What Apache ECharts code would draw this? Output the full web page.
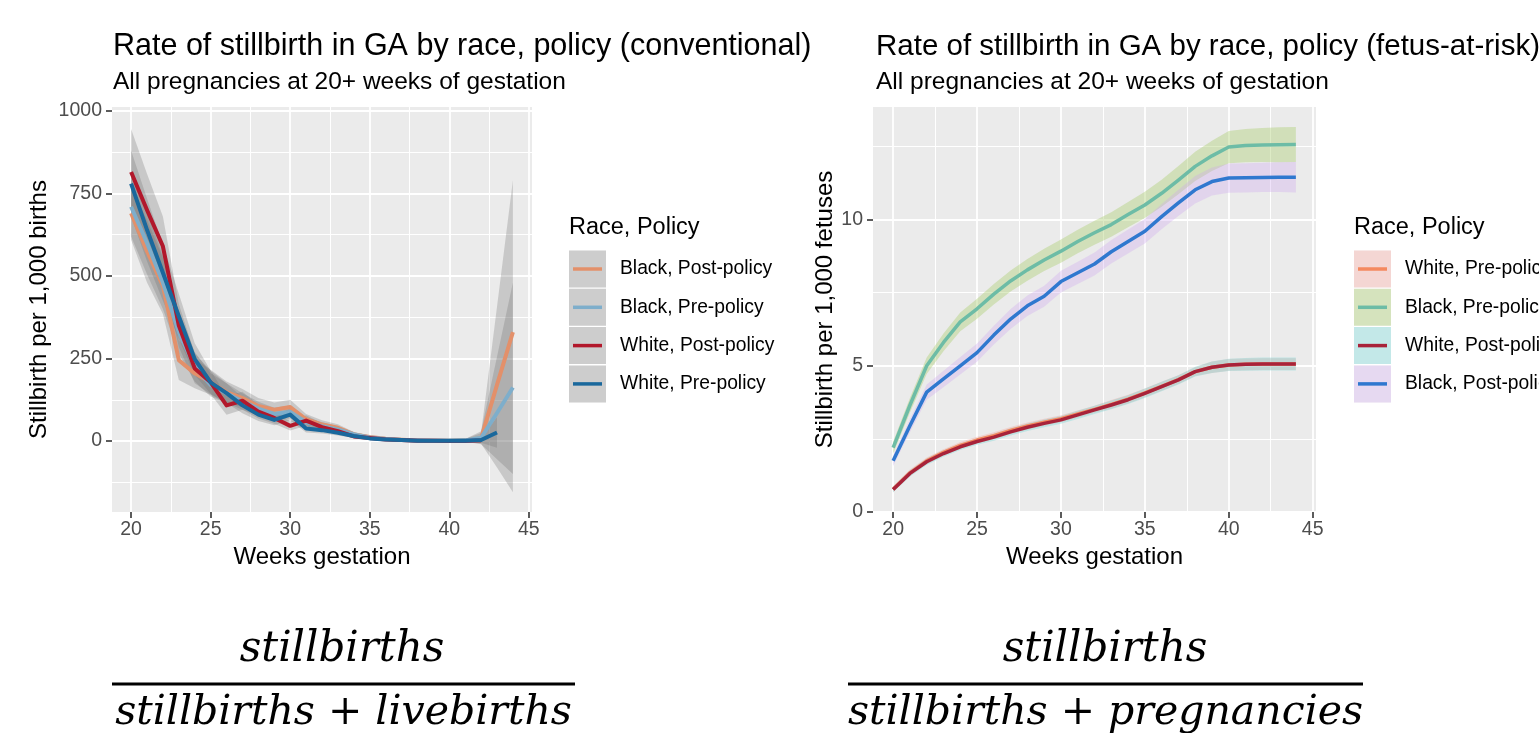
<!DOCTYPE html>
<html><head><meta charset="utf-8">
<script src="https://cdn.jsdelivr.net/npm/echarts@6/dist/echarts.min.js"></script>
<style>html,body{margin:0;padding:0;background:#fff}#c{width:1539px;height:733px}</style>
</head><body><div id="c"></div>
<script>
// ---------------- DATA ----------------
const weeks = [20,21,22,23,24,25,26,27,28,29,30,31,32,33,34,35,36,37,38,39,40,41,42,43,44];
const xTicks = [20,25,30,35,40,45];
const yTicksLeft = [0,250,500,750,1000];
const yTicksRight = [0,5,10];

// Left panel: conventional rate per 1,000 births
const convBlackPost    = [690,575,470,245,205,178,148,130,106,95,103,66,50,40,20,12,7,4,2,1,1,2,8,170,330];
const convBlackPostLo  = [610,480,385,185,160,140,116,102,82,73,81,50,37,29,13,7,3,1,0,0,0,-2,-8,-80,-155];
const convBlackPostHi  = [770,670,555,305,250,216,180,158,130,117,125,82,63,51,27,17,11,7,4,3,3,6,24,407,790];
const convBlackPre     = [710,600,480,330,225,170,145,120,98,82,88,57,45,35,20,11,6,3,2,1,1,2,10,85,162];
const convBlackPreLo   = [620,505,400,265,180,135,115,95,77,63,68,43,33,25,13,6,3,1,0,0,0,-2,-10,-55,-100];
const convBlackPreHi   = [800,695,560,395,270,205,175,145,119,101,108,71,57,45,27,16,9,5,4,3,3,6,30,255,480];
const convWhitePost    = [815,700,590,350,220,178,108,122,89,70,46,62,42,30,14,9,5,3,1,1,0,0,2];
const convWhitePostLo  = [700,590,490,285,175,142,80,95,68,52,32,46,30,21,8,5,2,1,0,0,0,-1,-6];
const convWhitePostHi  = [945,810,680,415,265,214,136,149,110,88,60,78,54,39,20,13,8,5,2,2,1,2,10];
const convWhitePre     = [780,640,510,378,248,178,145,108,80,64,80,38,33,25,15,8,5,3,1,1,1,1,3,26];
const convWhitePreLo   = [680,545,425,310,200,143,115,84,61,48,62,26,23,17,9,4,2,1,0,0,0,-1,-5,-20];
const convWhitePreHi   = [880,735,595,446,296,213,175,132,99,80,98,50,43,33,21,12,8,5,2,2,2,3,11,72];

// Right panel: fetus-at-risk rate per 1,000 fetuses
const farWhitePre    = [0.78,1.34,1.75,2.04,2.28,2.46,2.61,2.79,2.94,3.07,3.19,3.35,3.51,3.68,3.86,4.07,4.30,4.53,4.80,4.95,5.03,5.05,5.06,5.06,5.06];
const farWhitePreLo  = [0.68,1.23,1.64,1.93,2.17,2.35,2.49,2.67,2.82,2.95,3.07,3.23,3.39,3.53,3.71,3.92,4.15,4.38,4.65,4.75,4.83,4.85,4.86,4.86,4.86];
const farWhitePreHi  = [0.88,1.45,1.86,2.15,2.39,2.57,2.73,2.91,3.06,3.19,3.31,3.47,3.63,3.83,4.01,4.22,4.45,4.68,4.95,5.15,5.23,5.25,5.26,5.26,5.26];
const farBlackPre    = [2.20,3.65,5.00,5.80,6.50,6.95,7.45,7.90,8.28,8.62,8.92,9.25,9.55,9.83,10.17,10.50,10.90,11.35,11.82,12.18,12.48,12.53,12.55,12.56,12.57];
const farBlackPreLo  = [2.00,3.40,4.72,5.50,6.18,6.61,7.10,7.54,7.91,8.24,8.52,8.85,9.14,9.41,9.74,10.05,10.44,10.87,11.32,11.66,11.93,11.96,11.97,11.96,11.97];
const farBlackPreHi  = [2.40,3.90,5.28,6.10,6.82,7.29,7.80,8.26,8.65,9.00,9.32,9.65,9.96,10.25,10.60,10.95,11.36,11.83,12.32,12.70,13.03,13.10,13.13,13.16,13.17];
const farWhitePost   = [0.77,1.32,1.72,2.00,2.23,2.41,2.56,2.74,2.90,3.03,3.15,3.32,3.49,3.66,3.84,4.06,4.29,4.52,4.80,4.95,5.03,5.05,5.06,5.06,5.06];
const farWhitePostLo = [0.67,1.21,1.61,1.89,2.12,2.30,2.44,2.62,2.77,2.90,3.02,3.18,3.35,3.51,3.69,3.90,4.13,4.36,4.63,4.75,4.82,4.83,4.84,4.84,4.84];
const farWhitePostHi = [0.87,1.43,1.83,2.11,2.34,2.52,2.68,2.86,3.03,3.16,3.28,3.46,3.63,3.81,3.99,4.22,4.45,4.68,4.97,5.15,5.24,5.27,5.28,5.28,5.28];
const farBlackPost   = [1.75,2.95,4.10,4.55,5.00,5.45,6.05,6.60,7.05,7.38,7.88,8.18,8.48,8.90,9.25,9.60,10.10,10.57,11.02,11.30,11.42,11.43,11.44,11.45,11.45];
const farBlackPostLo = [1.57,2.73,3.84,4.27,4.70,5.14,5.73,6.26,6.70,7.02,7.51,7.80,8.09,8.50,8.84,9.18,9.67,10.12,10.55,10.82,10.92,10.93,10.94,10.94,10.93];
const farBlackPostHi = [1.93,3.17,4.36,4.83,5.30,5.76,6.37,6.94,7.40,7.74,8.25,8.56,8.87,9.30,9.66,10.02,10.53,11.02,11.49,11.78,11.92,11.93,11.94,11.96,11.97];

const leftLegend  = ['Black, Post-policy','Black, Pre-policy','White, Post-policy','White, Pre-policy'];
const rightLegend = ['White, Pre-policy','Black, Pre-policy','White, Post-policy','Black, Post-policy'];

// ---------------- STYLE ----------------
const FONT = 'Liberation Sans, Arial, sans-serif';
const SERIF = 'DejaVu Serif, serif';
const leftLineColors = ['#E3906A','#7EAECB','#B2182B','#1A689C'];
const leftRibbon = 'rgba(110,110,110,0.28)';
const rightLineColors = ['#F4895F','#6DBCA6','#A8233A','#2F78CF'];
const rightRibbons = ['rgba(248,150,140,0.30)','rgba(170,205,110,0.40)','rgba(110,215,215,0.35)','rgba(205,165,240,0.32)'];

function pairs(vals){ return vals.map((v,i)=>[weeks[i], v]); }
function triples(lo,hi){ return lo.map((v,i)=>[weeks[i], v, hi[i]]); }

function ribbon(xi, lo, hi, color){
  return {
    type:'custom', xAxisIndex:xi, yAxisIndex:xi, silent:true, z:2,
    data: triples(lo,hi),
    encode:{x:0, y:[1,2]},
    renderItem:function(params, api){
      if (params.dataIndexInside !== 0) return;
      const n = params.dataInsideLength;
      const top=[], bot=[];
      for (let i=0;i<n;i++){
        const x = api.value(0,i);
        top.push(api.coord([x, api.value(2,i)]));
        bot.push(api.coord([x, api.value(1,i)]));
      }
      return {type:'polygon', shape:{points: top.concat(bot.reverse())}, style:{fill:color}};
    }
  };
}
function line(xi, vals, color, w){
  return {type:'line', xAxisIndex:xi, yAxisIndex:xi, data:pairs(vals), showSymbol:false, symbol:'none',
    lineStyle:{color:color, width:w, cap:'butt', join:'round'}, itemStyle:{color:color}, silent:true, z:3, animation:false};
}

function xAxis(gi){
  return {type:'value', gridIndex:gi, min:18.8, max:45.2, minInterval:5, maxInterval:5,
    axisLine:{show:false, onZero:false},
    axisTick:{show:true, length:6, lineStyle:{color:'#333', width:1.6}, customValues:xTicks},
    axisLabel:{customValues:xTicks, color:'#4D4D4D', fontSize:19.5, fontFamily:FONT, margin:8, formatter:v=>String(v)},
    splitLine:{show:true, lineStyle:{color:'#fff', width:1.8}},
    minorTick:{show:false, splitNumber:2},
    minorSplitLine:{show:true, lineStyle:{color:'#fff', width:1}},
    name:'Weeks gestation', nameLocation:'middle', nameGap:32,
    nameTextStyle:{color:'#000', fontSize:24, fontFamily:FONT}};
}
function yAxis(gi, min, max, step, ticks, name, gap){
  return {type:'value', gridIndex:gi, min:min, max:max, minInterval:step, maxInterval:step,
    axisLine:{show:false, onZero:false},
    axisTick:{show:true, length:6, lineStyle:{color:'#333', width:1.6}, customValues:ticks},
    axisLabel:{customValues:ticks, color:'#4D4D4D', fontSize:19.5, fontFamily:FONT, margin:10, formatter:v=>String(v)},
    splitLine:{show:true, lineStyle:{color:'#fff', width:1.8}},
    minorTick:{show:false, splitNumber:2},
    minorSplitLine:{show:true, lineStyle:{color:'#fff', width:1}},
    name:name, nameLocation:'middle', nameGap:gap,
    nameTextStyle:{color:'#000', fontSize:24, fontFamily:FONT}};
}

function txt(x,y,s,size,opts){
  return Object.assign({type:'text', x:x, y:y, silent:true,
    style:{text:s, fill:'#000', font: size+'px '+FONT, textVerticalAlign:'middle', textAlign:'left'}}, opts||{});
}
function legendBlock(x0, title, labels, keyFills, lineColors){
  const els=[txt(x0, 228, title, 23.5)];
  labels.forEach((lab,i)=>{
    const y = 250.5 + i*38.3;
    els.push({type:'rect', silent:true, shape:{x:x0, y:y, width:37, height:37}, style:{fill:'#F2F2F2'}});
    els.push({type:'rect', silent:true, shape:{x:x0, y:y, width:37, height:37}, style:{fill:keyFills[i]}});
    els.push({type:'line', silent:true, shape:{x1:x0+4, y1:y+18.5, x2:x0+33, y2:y+18.5}, style:{stroke:lineColors[i], lineWidth:3.5}});
    els.push(txt(x0+51, y+18.5, lab, 19.3));
  });
  return els;
}
function formula(cx, x1, x2, num, den){
  return [
    {type:'text', x:cx, y:650, silent:true, style:{text:num, fill:'#000', font:'italic 42px '+SERIF, textAlign:'center', textVerticalAlign:'middle'}},
    {type:'rect', silent:true, shape:{x:x1, y:682.5, width:x2-x1, height:3}, style:{fill:'#000'}},
    {type:'text', x:(x1+x2)/2, y:713, silent:true, style:{text:den, fill:'#000', font:'italic 41px '+SERIF, textAlign:'center', textVerticalAlign:'middle'}}
  ];
}

const chart = echarts.init(document.getElementById('c'), null, {renderer:'canvas'});
const option = {
  animation:false,
  backgroundColor:'#fff',
  grid:[
    {left:112, top:107, width:420, height:405, show:true, backgroundColor:'#EBEBEB', borderWidth:0, containLabel:false},
    {left:873, top:107, width:443, height:405, show:true, backgroundColor:'#EBEBEB', borderWidth:0, containLabel:false}
  ],
  xAxis:[xAxis(0), xAxis(1)],
  yAxis:[
    yAxis(0, -215, 1012, 250, yTicksLeft, 'Stillbirth per 1,000 births', 61),
    yAxis(1, 0, 13.85, 5, yTicksRight, 'Stillbirth per 1,000 fetuses', 35)
  ],
  series:[
    ribbon(0, convBlackPostLo, convBlackPostHi, leftRibbon),
    ribbon(0, convBlackPreLo, convBlackPreHi, leftRibbon),
    ribbon(0, convWhitePostLo, convWhitePostHi, leftRibbon),
    ribbon(0, convWhitePreLo, convWhitePreHi, leftRibbon),
    line(0, convBlackPost, leftLineColors[0], 4),
    line(0, convBlackPre, leftLineColors[1], 4),
    line(0, convWhitePost, leftLineColors[2], 4),
    line(0, convWhitePre, leftLineColors[3], 4),
    ribbon(1, farWhitePreLo, farWhitePreHi, rightRibbons[0]),
    ribbon(1, farBlackPreLo, farBlackPreHi, rightRibbons[1]),
    ribbon(1, farWhitePostLo, farWhitePostHi, rightRibbons[2]),
    ribbon(1, farBlackPostLo, farBlackPostHi, rightRibbons[3]),
    line(1, farWhitePre, rightLineColors[0], 3.5),
    line(1, farBlackPre, rightLineColors[1], 3.5),
    line(1, farWhitePost, rightLineColors[2], 3.5),
    line(1, farBlackPost, rightLineColors[3], 3.5)
  ],
  graphic:[].concat(
    [txt(113, 47, 'Rate of stillbirth in GA by race, policy (conventional)', 30.5),
     txt(113, 82, 'All pregnancies at 20+ weeks of gestation', 24.5),
     txt(876, 47, 'Rate of stillbirth in GA by race, policy (fetus-at-risk)', 29.5),
     txt(876, 82, 'All pregnancies at 20+ weeks of gestation', 24.5)],
    legendBlock(569, 'Race, Policy', leftLegend, [leftRibbon,leftRibbon,leftRibbon,leftRibbon], leftLineColors),
    legendBlock(1354, 'Race, Policy', rightLegend, rightRibbons, rightLineColors),
    formula(342, 112, 575, 'stillbirths', 'stillbirths + livebirths'),
    formula(1105, 848, 1363, 'stillbirths', 'stillbirths + pregnancies')
  )
};
chart.setOption(option);
</script></body></html>
